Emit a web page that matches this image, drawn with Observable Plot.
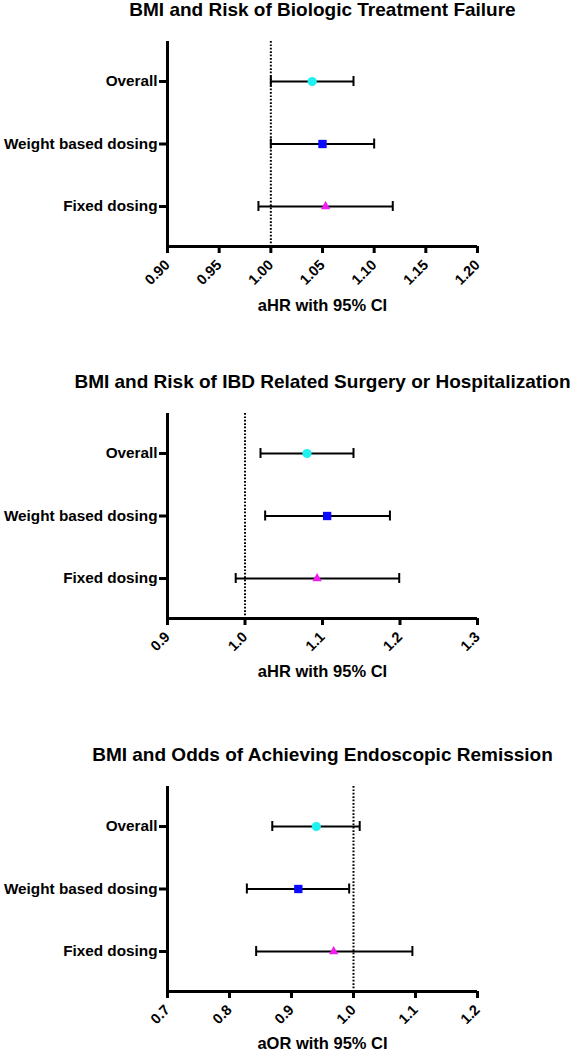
<!DOCTYPE html>
<html>
<head>
<meta charset="utf-8">
<script src="https://cdn.jsdelivr.net/npm/d3@7"></script>
<script src="https://cdn.jsdelivr.net/npm/@observablehq/plot@0.6"></script>
<style>
  html, body { margin: 0; padding: 0; background: #fff; }
  #chart svg { display: block; }
  #chart g[aria-label="x-axis tick label"] text { font-size: 14.5px; font-weight: bold; }
  #chart g[aria-label="y-axis tick label"] text { font-size: 15.3px; font-weight: bold; }
</style>
</head>
<body>
<div id="chart"></div>
<script>
// ---- data ----
const categories = ["Overall", "Weight based dosing", "Fixed dosing"];

const failureTitle = "BMI and Risk of Biologic Treatment Failure";
const failureLabel = "aHR with 95% CI";
const failureEst = [1.04, 1.05, 1.053];
const failureLo  = [1.00, 1.00, 0.988];
const failureHi  = [1.08, 1.10, 1.118];
const failureTicks = ["0.90", "0.95", "1.00", "1.05", "1.10", "1.15", "1.20"];

const surgeryTitle = "BMI and Risk of IBD Related Surgery or Hospitalization";
const surgeryLabel = "aHR with 95% CI";
const surgeryEst = [1.08, 1.106, 1.093];
const surgeryLo  = [1.02, 1.026, 0.988];
const surgeryHi  = [1.14, 1.187, 1.199];
const surgeryTicks = ["0.9", "1.0", "1.1", "1.2", "1.3"];

const remissionTitle = "BMI and Odds of Achieving Endoscopic Remission";
const remissionLabel = "aOR with 95% CI";
const remissionEst = [0.94, 0.911, 0.968];
const remissionLo  = [0.869, 0.828, 0.843];
const remissionHi  = [1.01, 0.993, 1.095];
const remissionTicks = ["0.7", "0.8", "0.9", "1.0", "1.1", "1.2"];

const referenceValue = 1;

// ---- styles ----
const markerStyles = [
  {symbol: "circle", fill: "#1ff0f0", r: 4.6},
  {symbol: "square", fill: "#0a0aff", r: 4.7},
  {symbol: "triangle", fill: "#f01cf0", r: 3.5}
];
const FONT = "'Liberation Sans', Arial, Helvetica, sans-serif";
const PAD = 0.64;

function panel({title, label, est, lo, hi, ticks, height, labelDy}) {
  const rows = categories.map((c, i) => ({cat: c, pos: i + 1, est: est[i], lo: lo[i], hi: hi[i]}));
  const tickVals = ticks.map(Number);
  const yBottom = categories.length + PAD;
  const yTop = 1 - PAD;
  return Plot.plot({
    width: 575,
    height,
    marginLeft: 167,
    marginRight: 98,
    marginTop: 41,
    marginBottom: height - 246,
    style: {fontFamily: FONT, fontWeight: "bold", fontSize: "15px", color: "#000", background: "#fff", overflow: "visible"},
    x: {domain: [tickVals[0], tickVals[tickVals.length - 1]]},
    y: {domain: [yBottom, yTop]},
    marks: [
      Plot.ruleX([referenceValue], {stroke: "#000", strokeWidth: 2, strokeDasharray: "1.7,1.7"}),
      Plot.ruleY(rows, {x1: "lo", x2: "hi", y: "pos", stroke: "#000", strokeWidth: 2}),
      Plot.ruleX(rows, {x: "lo", y1: "pos", y2: "pos", insetTop: -5, insetBottom: -5, stroke: "#000", strokeWidth: 2}),
      Plot.ruleX(rows, {x: "hi", y1: "pos", y2: "pos", insetTop: -5, insetBottom: -5, stroke: "#000", strokeWidth: 2}),
      ...rows.map((row, i) => Plot.dot([row], {x: "est", y: "pos", symbol: markerStyles[i].symbol, fill: markerStyles[i].fill, r: markerStyles[i].r, stroke: null})),
      Plot.ruleX([tickVals[0]], {stroke: "#000", strokeWidth: 3}),
      Plot.ruleY([yBottom], {stroke: "#000", strokeWidth: 3}),
      Plot.axisY({ticks: rows.map(r => r.pos), tickFormat: (d) => categories[d - 1], tickSize: 8, tickPadding: 2, strokeWidth: 3, label: null}),
      Plot.axisX({ticks: tickVals, tickFormat: (d, i) => ticks[i], tickSize: 7, tickPadding: 9, tickRotate: -45, strokeWidth: 3, label: null}),
      Plot.text([title], {frameAnchor: "top", lineAnchor: "bottom", dy: -26, fontSize: 19, fontWeight: "bold"}),
      Plot.text([label], {frameAnchor: "bottom", lineAnchor: "middle", dy: labelDy, fontSize: 16.5, fontWeight: "bold"})
    ]
  });
}

const chart = document.getElementById("chart");
chart.append(panel({title: failureTitle, label: failureLabel, est: failureEst, lo: failureLo, hi: failureHi, ticks: failureTicks, height: 372, labelDy: 59}));
chart.append(panel({title: surgeryTitle, label: surgeryLabel, est: surgeryEst, lo: surgeryLo, hi: surgeryHi, ticks: surgeryTicks, height: 373, labelDy: 53}));
chart.append(panel({title: remissionTitle, label: remissionLabel, est: remissionEst, lo: remissionLo, hi: remissionHi, ticks: remissionTicks, height: 305, labelDy: 52}));
</script>
</body>
</html>
